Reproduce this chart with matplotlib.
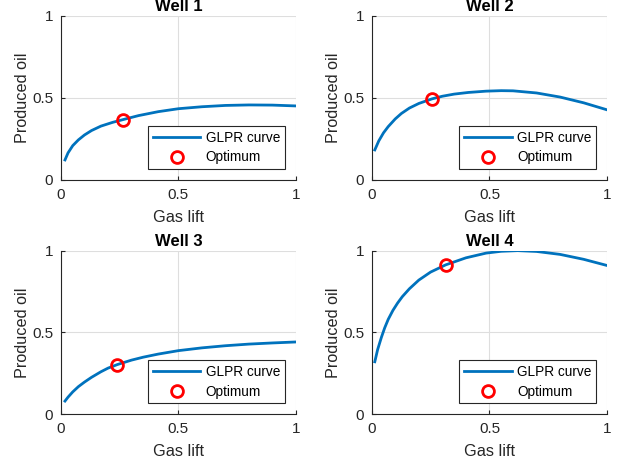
import numpy as np
import matplotlib.pyplot as plt

plt.rcParams['font.family'] = ['Liberation Sans', 'DejaVu Sans']

# values
well_names = ["Well 1", "Well 2", "Well 3", "Well 4"]

x_w1 = [0.017, 0.03, 0.05, 0.074, 0.1, 0.13, 0.17, 0.22, 0.265, 0.33, 0.414, 0.5, 0.6, 0.7, 0.8, 0.9, 1.0]
y_w1 = [0.122, 0.165, 0.209, 0.244, 0.274, 0.301, 0.328, 0.351, 0.368, 0.392, 0.416, 0.434, 0.446, 0.454, 0.457, 0.456, 0.451]

x_w2 = [0.013, 0.03, 0.05, 0.07, 0.1, 0.126, 0.16, 0.2, 0.256, 0.3, 0.35, 0.41, 0.486, 0.55, 0.6, 0.7, 0.8, 0.9, 1.0]
y_w2 = [0.183, 0.238, 0.287, 0.325, 0.372, 0.405, 0.438, 0.466, 0.494, 0.510, 0.523, 0.533, 0.541, 0.544, 0.543, 0.530, 0.505, 0.470, 0.427]

x_w3 = [0.017, 0.03, 0.05, 0.074, 0.1, 0.13, 0.17, 0.2, 0.24, 0.3, 0.35, 0.414, 0.5, 0.6, 0.7, 0.8, 0.9, 1.0]
y_w3 = [0.081, 0.105, 0.137, 0.169, 0.197, 0.226, 0.260, 0.282, 0.304, 0.331, 0.349, 0.368, 0.389, 0.406, 0.419, 0.429, 0.436, 0.442]

x_w4 = [0.013, 0.025, 0.041, 0.055, 0.07, 0.09, 0.11, 0.13, 0.16, 0.2, 0.25, 0.314, 0.4, 0.486, 0.55, 0.62, 0.7, 0.8, 0.9, 1.0]
y_w4 = [0.321, 0.395, 0.470, 0.528, 0.580, 0.635, 0.680, 0.719, 0.767, 0.820, 0.869, 0.913, 0.956, 0.985, 0.996, 1.000, 0.995, 0.977, 0.947, 0.909]

opt_x = [0.265, 0.256, 0.24, 0.314]
opt_y = [0.368, 0.494, 0.304, 0.913]

curves = [(x_w1, y_w1), (x_w2, y_w2), (x_w3, y_w3), (x_w4, y_w4)]

blue = (0, 0.447, 0.741)
dark = (0.15, 0.15, 0.15)

fig = plt.figure(figsize=(6.18, 4.65), dpi=100)
positions = [
    [0.0987, 0.613, 0.380, 0.353],
    [0.6015, 0.613, 0.381, 0.353],
    [0.0987, 0.109, 0.380, 0.352],
    [0.6015, 0.109, 0.381, 0.352],
]

for i, pos in enumerate(positions):
    ax = fig.add_axes(pos)
    xs, ys = curves[i]
    ax.plot(xs, ys, color=blue, lw=2.0, label="GLPR curve", solid_joinstyle='round')
    ax.plot(opt_x[i], opt_y[i], 'o', mfc='none', mec='red', mew=2.0, ms=8.5, label="Optimum")
    ax.set_xlim(0, 1)
    ax.set_ylim(0, 1)
    ax.set_xticks([0, 0.5, 1], ["0", "0.5", "1"])
    ax.set_yticks([0, 0.5, 1], ["0", "0.5", "1"])
    ax.grid(True, color=(0.87, 0.87, 0.87), lw=0.8)
    ax.set_axisbelow(True)
    for s in ['top', 'right']:
        ax.spines[s].set_visible(False)
    for s in ['left', 'bottom']:
        ax.spines[s].set_color(dark)
        ax.spines[s].set_linewidth(0.8)
    ax.tick_params(direction='in', length=3, width=0.8, colors=dark, labelsize=11, pad=5.5)
    ax.set_xlabel("Gas lift", fontsize=11.7, color=dark, labelpad=6)
    ax.set_ylabel("Produced oil", fontsize=11.7, color=dark, labelpad=1.5)
    ax.set_title(well_names[i], fontsize=12, fontweight='bold', pad=3.5)
    leg = ax.legend(loc='lower right', fontsize=9.8, fancybox=False, framealpha=1,
                    edgecolor=(0.15, 0.15, 0.15), handlelength=3.5, borderaxespad=0.8,
                    borderpad=0.35, labelspacing=0.42, handletextpad=0.4)
    leg.get_frame().set_linewidth(0.8)

fig.savefig("out.png", dpi=100)
